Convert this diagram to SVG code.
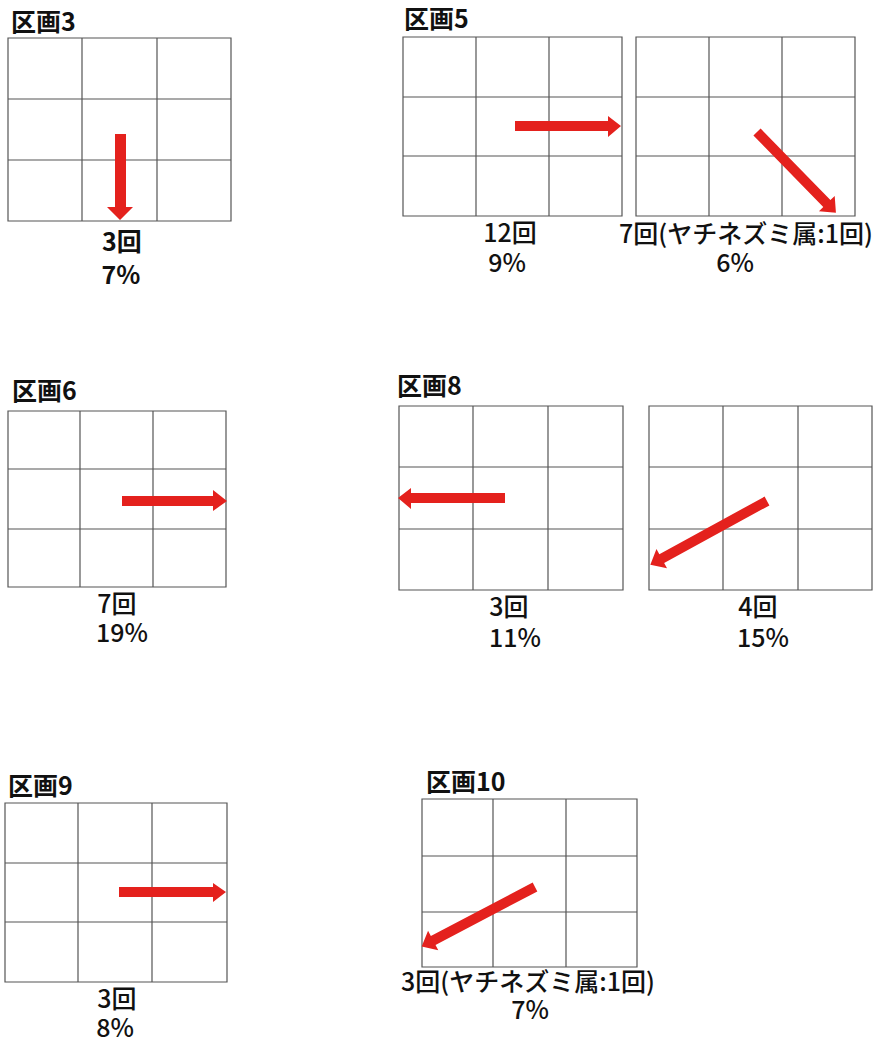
<svg xmlns="http://www.w3.org/2000/svg" width="874" height="1039" viewBox="0 0 874 1039">
<style>
.g{fill:none;stroke:#555;stroke-width:1.2}
.a{fill:#E4211D}
.t{font-family:"Noto Sans CJK JP","Noto Sans",sans-serif;font-size:25px;font-weight:500;fill:#111}
.h{font-weight:600;font-size:25px}
.b{font-weight:700}
.c{text-anchor:middle}
</style>
<rect width="874" height="1039" fill="#fff"/>
<g id="p3">
<path class="g" d="M8,38H231V221H8Z M82,38V221 M157,38V221 M8,99H231 M8,160H231"/>
<text class="t h b" x="11" y="31">区画3</text>
<text class="t b c" x="122" y="251">3回</text>
<text class="t b c" x="121" y="284">7%</text>
</g>
<g id="p5a">
<path class="g" d="M403,37H622V216H403Z M476,37V216 M549,37V216 M403,97H622 M403,156H622"/>
<text class="t h" x="404" y="28">区画5</text>
<text class="t c" x="510" y="242">12回</text>
<text class="t c" x="507" y="272">9%</text>
</g>
<g id="p5b">
<path class="g" d="M636,37H855V216H636Z M709,37V216 M782,37V216 M636,97H855 M636,156H855"/>
<text class="t c" x="746" y="243">7回(ヤチネズミ属:1回)</text>
<text class="t c" x="735" y="272">6%</text>
</g>
<g id="p6">
<path class="g" d="M8,411H226V587H8Z M80,411V587 M153,411V587 M8,469H226 M8,529H226"/>
<text class="t h" x="12" y="400">区画6</text>
<text class="t c" x="117" y="613">7回</text>
<text class="t c" x="122" y="642">19%</text>
</g>
<g id="p8a">
<path class="g" d="M399,406H623V590H399Z M473,406V590 M548,406V590 M399,467H623 M399,529H623"/>
<text class="t h" x="397" y="395">区画8</text>
<text class="t c" x="509" y="616">3回</text>
<text class="t c" x="515" y="647">11%</text>
</g>
<g id="p8b">
<path class="g" d="M649,406H872V590H649Z M723,406V590 M798,406V590 M649,467H872 M649,529H872"/>
<text class="t c" x="758" y="616">4回</text>
<text class="t c" x="763" y="647">15%</text>
</g>
<g id="p9">
<path class="g" d="M5,803H227V982H5Z M78,803V982 M152,803V982 M5,863H227 M5,922H227"/>
<text class="t h" x="8" y="795">区画9</text>
<text class="t c" x="117" y="1008">3回</text>
<text class="t c" x="115" y="1037">8%</text>
</g>
<g id="p10">
<path class="g" d="M422,799H637V967H422Z M493,799V967 M566,799V967 M422,856H637 M422,912H637"/>
<text class="t h" x="426" y="791">区画10</text>
<text class="t c" x="528" y="991">3回(ヤチネズミ属:1回)</text>
<text class="t c" x="530" y="1019">7%</text>
</g>
<g id="arrows">
<polygon class="a" points="115,134 126,134 126,207 133,207 120,220 107,207 115,207"/>
<polygon class="a" points="515,121 608,121 608,116 621,126 608,137 608,131 515,131"/>
<polygon class="a" transform="translate(757,132) rotate(45.7)" points="0,-5 100,-5 100,-11 113,0 100,11 100,5 0,5"/>
<polygon class="a" points="122,496 213,496 213,490 227,501 213,511 213,506 122,506"/>
<polygon class="a" points="505,493 411,493 411,488 398,498 411,509 411,503 505,503"/>
<polygon class="a" transform="translate(767,501) rotate(151.3)" points="0,-5 120,-5 120,-11 133,0 120,11 120,5 0,5"/>
<polygon class="a" points="119,887 213,887 213,883 226,892 213,902 213,897 119,897"/>
<polygon class="a" transform="translate(535,887) rotate(152.3)" points="0,-5 115,-5 115,-11 128,0 115,11 115,5 0,5"/>
</g>
</svg>
